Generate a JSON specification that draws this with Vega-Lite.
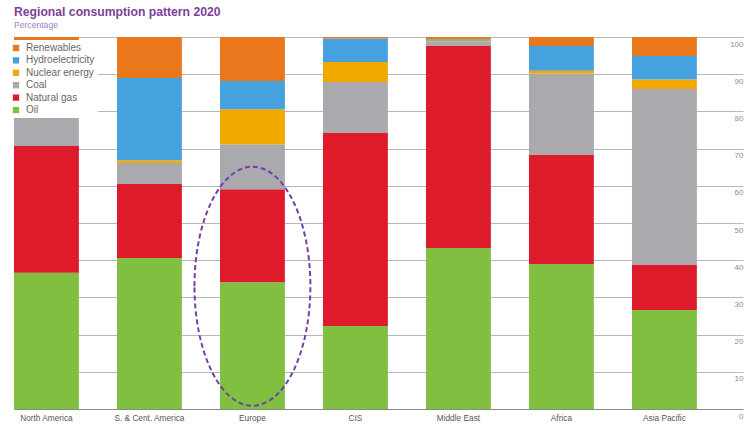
{
  "$schema": "https://vega.github.io/schema/vega-lite/v6.json",
  "width": 729,
  "height": 372,
  "autosize": {"type": "none"},
  "padding": {"left": 14, "top": 37, "right": 12, "bottom": 16},
  "background": "white",
  "config": {
    "font": "Liberation Sans, sans-serif",
    "view": {"stroke": null}
  },
  "title": {
    "text": "Regional consumption pattern 2020",
    "subtitle": "Percentage",
    "anchor": "start",
    "frame": "group",
    "font": "Liberation Sans Narrow, Liberation Sans, sans-serif",
    "fontSize": 12.2,
    "fontWeight": "bold",
    "color": "#7d3f9b",
    "subtitleFont": "Liberation Sans Narrow, Liberation Sans, sans-serif",
    "subtitleFontSize": 8.6,
    "subtitleColor": "#a47dbf",
    "subtitlePadding": 3,
    "offset": 7
  },
  "layer": [
    {
      "data": {
        "values": [
          {"region": "North America", "fuel": "Oil", "value": 36.6},
          {"region": "North America", "fuel": "Natural gas", "value": 34.1},
          {"region": "North America", "fuel": "Coal", "value": 8.1},
          {"region": "North America", "fuel": "Nuclear energy", "value": 8.2},
          {"region": "North America", "fuel": "Hydroelectricity", "value": 6.0},
          {"region": "North America", "fuel": "Renewables", "value": 7.0},
          {"region": "S. & Cent. America", "fuel": "Oil", "value": 40.6},
          {"region": "S. & Cent. America", "fuel": "Natural gas", "value": 19.9},
          {"region": "S. & Cent. America", "fuel": "Coal", "value": 5.6},
          {"region": "S. & Cent. America", "fuel": "Nuclear energy", "value": 0.8},
          {"region": "S. & Cent. America", "fuel": "Hydroelectricity", "value": 22.1},
          {"region": "S. & Cent. America", "fuel": "Renewables", "value": 11.0},
          {"region": "Europe", "fuel": "Oil", "value": 34.1},
          {"region": "Europe", "fuel": "Natural gas", "value": 25.0},
          {"region": "Europe", "fuel": "Coal", "value": 12.1},
          {"region": "Europe", "fuel": "Nuclear energy", "value": 9.4},
          {"region": "Europe", "fuel": "Hydroelectricity", "value": 7.6},
          {"region": "Europe", "fuel": "Renewables", "value": 11.8},
          {"region": "CIS", "fuel": "Oil", "value": 22.3},
          {"region": "CIS", "fuel": "Natural gas", "value": 51.9},
          {"region": "CIS", "fuel": "Coal", "value": 13.7},
          {"region": "CIS", "fuel": "Nuclear energy", "value": 5.4},
          {"region": "CIS", "fuel": "Hydroelectricity", "value": 6.3},
          {"region": "CIS", "fuel": "Renewables", "value": 0.4},
          {"region": "Middle East", "fuel": "Oil", "value": 43.3},
          {"region": "Middle East", "fuel": "Natural gas", "value": 54.3},
          {"region": "Middle East", "fuel": "Coal", "value": 1.1},
          {"region": "Middle East", "fuel": "Nuclear energy", "value": 0.3},
          {"region": "Middle East", "fuel": "Hydroelectricity", "value": 0.4},
          {"region": "Middle East", "fuel": "Renewables", "value": 0.6},
          {"region": "Africa", "fuel": "Oil", "value": 39.0},
          {"region": "Africa", "fuel": "Natural gas", "value": 29.3},
          {"region": "Africa", "fuel": "Coal", "value": 21.8},
          {"region": "Africa", "fuel": "Nuclear energy", "value": 0.8},
          {"region": "Africa", "fuel": "Hydroelectricity", "value": 6.7},
          {"region": "Africa", "fuel": "Renewables", "value": 2.4},
          {"region": "Asia Pacific", "fuel": "Oil", "value": 26.6},
          {"region": "Asia Pacific", "fuel": "Natural gas", "value": 12.1},
          {"region": "Asia Pacific", "fuel": "Coal", "value": 47.3},
          {"region": "Asia Pacific", "fuel": "Nuclear energy", "value": 2.6},
          {"region": "Asia Pacific", "fuel": "Hydroelectricity", "value": 6.3},
          {"region": "Asia Pacific", "fuel": "Renewables", "value": 5.1}
        ]
      },
      "transform": [
        {"calculate": "indexof(['Oil','Natural gas','Coal','Nuclear energy','Hydroelectricity','Renewables'], datum.fuel)", "as": "stackOrder"}
      ],
      "mark": {"type": "bar"},
      "encoding": {
        "x": {
          "field": "region",
          "type": "nominal",
          "sort": null,
          "scale": {
            "domain": ["North America", "S. & Cent. America", "Europe", "CIS", "Middle East", "Africa", "Asia Pacific"],
            "paddingInner": 0.37, "paddingOuter": 0.224, "align": 0
          },
          "axis": {
            "title": null,
            "labelAngle": 0,
            "ticks": false,
            "labelFontSize": 8.3,
            "labelColor": "#555555",
            "labelPadding": 4,
            "domainColor": "#8a8a8a",
            "domainWidth": 1.2
          }
        },
        "y": {
          "field": "value",
          "type": "quantitative",
          "stack": "zero",
          "scale": {"domain": [0, 100], "nice": false},
          "axis": {
            "title": null,
            "orient": "right",
            "values": [0, 10, 20, 30, 40, 50, 60, 70, 80, 90, 100],
            "tickCount": 20,
            "labelOverlap": false,
            "domain": false,
            "ticks": false,
            "tickSize": 0,
            "labelAlign": "right",
            "labelBaseline": "top",
            "labelOffset": 3,
            "labelPadding": 0,
            "labelFontSize": 8,
            "labelColor": "#8c8c8c",
            "gridColor": "#b8b8b8",
            "gridWidth": 1
          }
        },
        "color": {
          "field": "fuel",
          "type": "nominal",
          "scale": {
            "domain": ["Renewables", "Hydroelectricity", "Nuclear energy", "Coal", "Natural gas", "Oil"],
            "range": ["#e8781b", "#45a2de", "#f1a800", "#a9a9ae", "#de1b2a", "#80bf40"]
          },
          "legend": {
            "title": null,
            "orient": "none",
            "legendX": -6,
            "legendY": 3,
            "fillColor": "white",
            "padding": 3,
            "symbolType": "square",
            "symbolSize": 40,
            "symbolStrokeWidth": 0,
            "labelFontSize": 10,
            "labelColor": "#666666",
            "labelOffset": 5,
            "rowPadding": 2.4
          }
        },
        "order": {"field": "stackOrder", "type": "quantitative", "sort": "ascending"}
      }
    },
    {
      "data": {"values": [{"region": "Europe", "value": 33}]},
      "mark": {
        "type": "point",
        "shape": "M-0.485,0A0.485,1 0 1,1 0.485,0A0.485,1 0 1,1 -0.485,0Z",
        "size": 57121,
        "filled": false,
        "stroke": "#7440a8",
        "strokeWidth": 2,
        "strokeDash": [5, 3],
        "opacity": 1
      },
      "encoding": {
        "x": {"field": "region", "type": "nominal", "sort": null},
        "y": {
          "field": "value",
          "type": "quantitative",
          "axis": {
            "title": null,
            "orient": "right",
            "values": [0, 10, 20, 30, 40, 50, 60, 70, 80, 90, 100],
            "tickCount": 20,
            "labelOverlap": false,
            "domain": false,
            "ticks": false,
            "tickSize": 0,
            "labelAlign": "right",
            "labelBaseline": "top",
            "labelOffset": 3,
            "labelPadding": 0,
            "labelFontSize": 8,
            "labelColor": "#8c8c8c",
            "gridColor": "#b8b8b8",
            "gridWidth": 1
          }
        }
      }
    }
  ]
}
